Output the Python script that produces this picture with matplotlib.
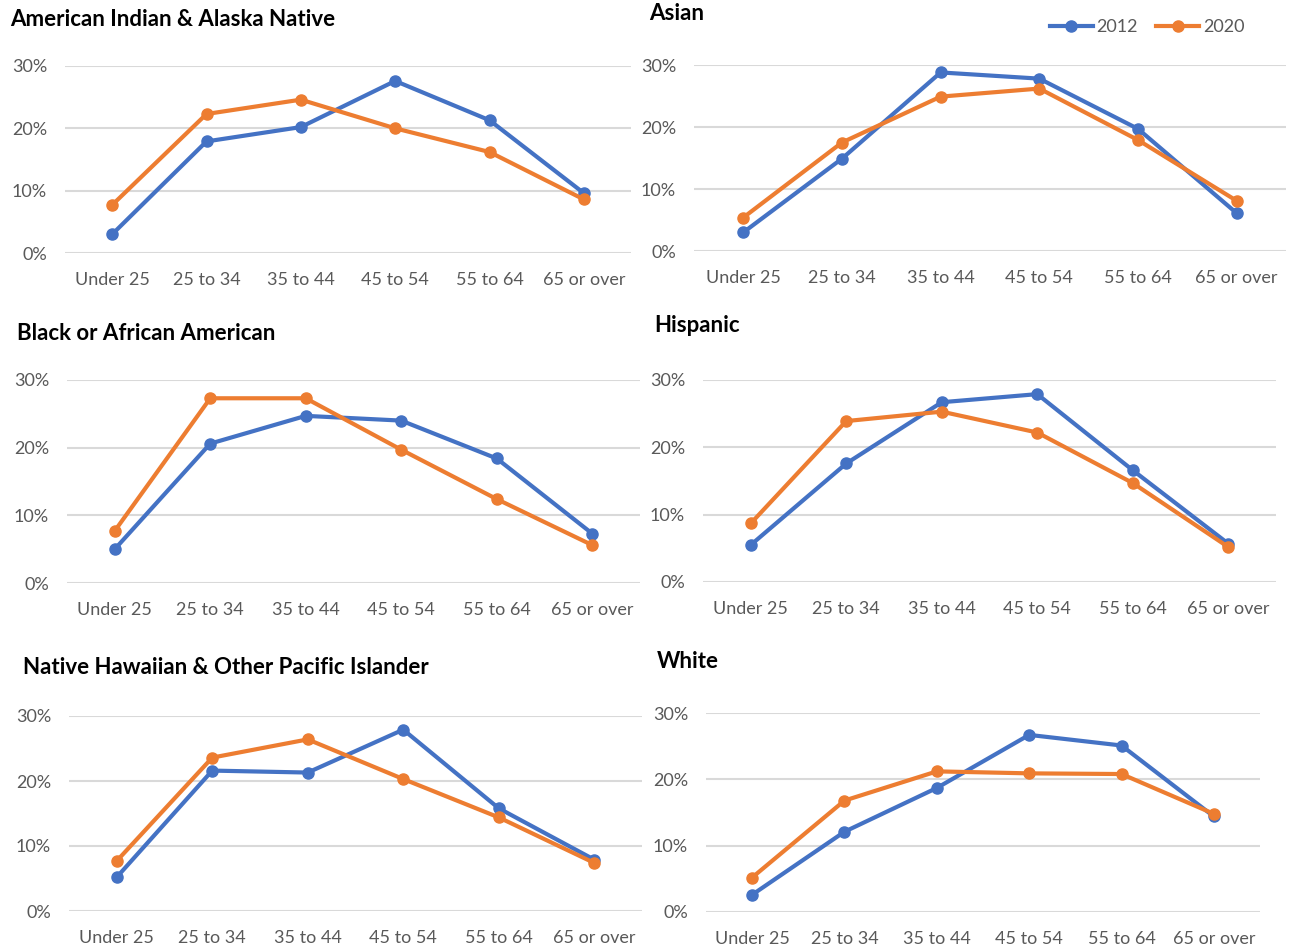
import matplotlib
matplotlib.use("Agg")
import matplotlib.pyplot as plt
from matplotlib.lines import Line2D
from matplotlib.ticker import PercentFormatter

plt.rcParams['font.family'] = ['Lato', 'DejaVu Sans']

age_groups = ["Under 25", "25 to 34", "35 to 44", "45 to 54", "55 to 64", "65 or over"]
years = ["2012", "2020"]

aian_2012 = [3.0, 17.9, 20.2, 27.6, 21.3, 9.6]
aian_2020 = [7.7, 22.3, 24.6, 20.0, 16.2, 8.6]
asian_2012 = [3.0, 14.9, 28.8, 27.8, 19.7, 6.1]
asian_2020 = [5.4, 17.5, 24.9, 26.2, 17.9, 8.1]
black_2012 = [5.0, 20.6, 24.7, 24.0, 18.4, 7.3]
black_2020 = [7.7, 27.3, 27.3, 19.7, 12.4, 5.6]
hispanic_2012 = [5.5, 17.6, 26.7, 27.9, 16.6, 5.7]
hispanic_2020 = [8.7, 23.9, 25.3, 22.2, 14.7, 5.2]
nhpi_2012 = [5.2, 21.6, 21.3, 27.9, 15.8, 7.9]
nhpi_2020 = [7.7, 23.6, 26.4, 20.3, 14.4, 7.4]
white_2012 = [2.6, 12.1, 18.7, 26.7, 25.1, 14.4]
white_2020 = [5.2, 16.8, 21.2, 20.9, 20.8, 14.8]

titles = ["American Indian & Alaska Native", "Asian", "Black or African American",
          "Hispanic", "Native Hawaiian & Other Pacific Islander", "White"]
series = [(aian_2012, aian_2020), (asian_2012, asian_2020), (black_2012, black_2020),
          (hispanic_2012, hispanic_2020), (nhpi_2012, nhpi_2020), (white_2012, white_2020)]

BLUE = "#4472C4"
ORANGE = "#ED7D31"
GRID = "#D9D9D9"
TEXT = "#595959"

W, H = 1289, 949
fig = plt.figure(figsize=(W / 100, H / 100), dpi=100)

# plot areas in pixels: left, right, top (30% line), bottom (0% line)
boxes = [(65, 631, 66, 253), (694, 1286, 65, 251), (67, 640, 380, 583),
         (703, 1276, 380, 582), (69, 642, 716, 911), (706, 1260, 713, 912)]
# title anchors in pixels: x, y(center)
title_pos = [(10, 19), (649, 14), (17, 334), (654, 326), (23, 668), (657, 661)]

for (l, r, t, b), (tx, ty), title, (s12, s20) in zip(boxes, title_pos, titles, series):
    ax = fig.add_axes([l / W, 1 - b / H, (r - l) / W, (b - t) / H])
    x = range(len(age_groups))
    for vals, col in ((s12, BLUE), (s20, ORANGE)):
        ax.plot(x, vals, color=col, lw=3.0, marker="o", ms=8, clip_on=False,
                solid_capstyle="round", solid_joinstyle="round", zorder=3)
    ax.set_xlim(-0.5, len(age_groups) - 0.5)
    ax.set_ylim(0, 30)
    ax.set_yticks([0, 10, 20, 30])
    ax.yaxis.set_major_formatter(PercentFormatter(decimals=0))
    ax.set_xticks(list(x))
    ax.set_xticklabels(age_groups)
    ax.grid(axis="y", color=GRID, lw=1.5)
    ax.set_axisbelow(True)
    for sp in ax.spines.values():
        sp.set_visible(False)
    ax.tick_params(length=0, labelsize=13, labelcolor=TEXT)
    ax.tick_params(axis="y", pad=13)
    ax.tick_params(axis="x", pad=14)
    fig.text(tx / W, 1 - ty / H, title, fontsize=16, fontweight="bold",
             ha="left", va="center", color="black")

handles = [Line2D([], [], color=BLUE, lw=3.0, marker="o", ms=8),
           Line2D([], [], color=ORANGE, lw=3.0, marker="o", ms=8)]
fig.legend(handles, years, loc="center", bbox_to_anchor=(1147 / W, 1 - 27 / H),
           ncol=2, frameon=False, fontsize=13, labelcolor=TEXT,
           handlelength=2.4, handletextpad=0.2, columnspacing=1.0)

fig.savefig("out.png", dpi=100, facecolor="white")
